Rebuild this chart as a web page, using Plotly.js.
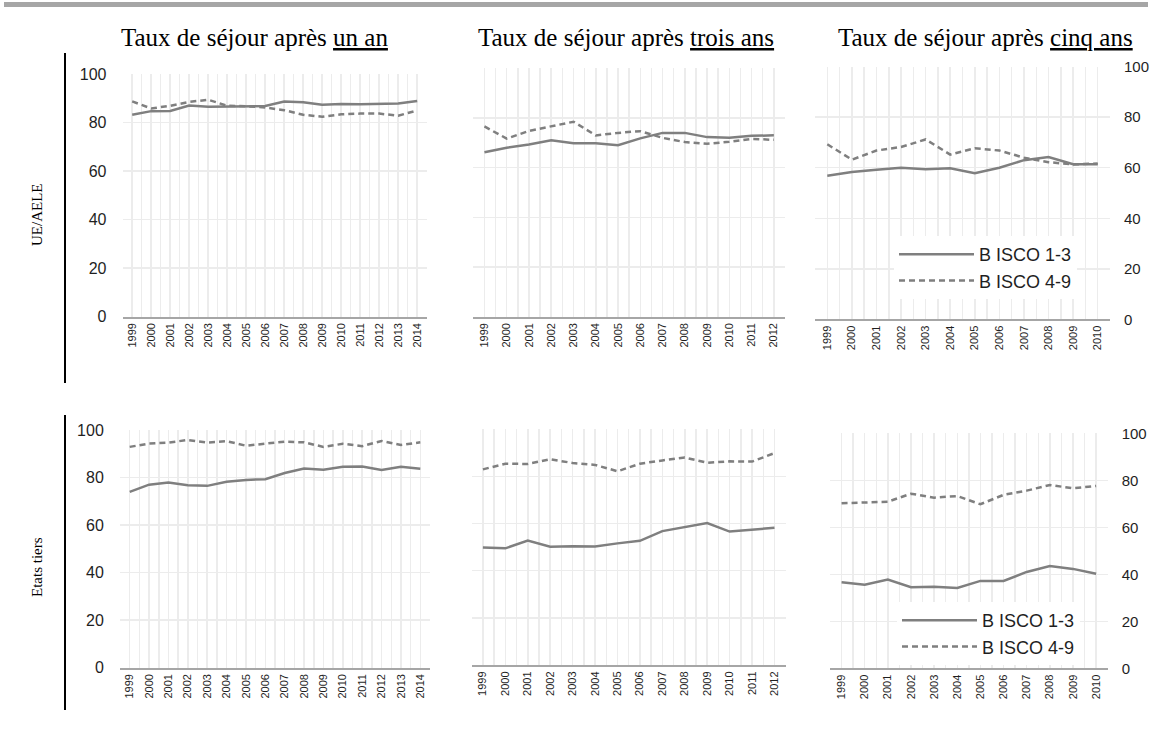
<!DOCTYPE html>
<html>
<head>
<meta charset="utf-8">
<script src="https://cdn.plot.ly/plotly-3.0.1.min.js"></script>
<style>html,body{margin:0;padding:0;background:#fff;}#chart{width:1151px;height:740px;}</style>
</head>
<body>
<div id="chart"></div>
<script>
// ---- Data ----
const years1 = [1999,2000,2001,2002,2003,2004,2005,2006,2007,2008,2009,2010,2011,2012,2013,2014];
const years3 = [1999,2000,2001,2002,2003,2004,2005,2006,2007,2008,2009,2010,2011,2012];
const years5 = [1999,2000,2001,2002,2003,2004,2005,2006,2007,2008,2009,2010];

const seriesNames = ['B ISCO 1-3', 'B ISCO 4-9'];
const rowLabels = ['UE/AELE', 'Etats tiers'];
const panelTitles = ['Taux de séjour après <u>un an</u>', 'Taux de séjour après <u>trois ans</u>', 'Taux de séjour après <u>cinq ans</u>'];
const yTicks = [0, 20, 40, 60, 80, 100];

// UE/AELE
const ue1_isco13 = [83.2, 84.7, 84.8, 87.0, 86.5, 86.7, 86.7, 86.8, 88.7, 88.4, 87.3, 87.6, 87.5, 87.7, 87.8, 88.9];
const ue1_isco49 = [88.7, 85.8, 86.9, 88.5, 89.4, 86.9, 86.7, 86.2, 85.1, 83.2, 82.4, 83.4, 83.7, 83.7, 82.8, 85.0];
const ue3_isco13 = [66.2, 68.0, 69.3, 71.0, 69.8, 69.8, 69.0, 71.8, 74.0, 74.0, 72.3, 72.0, 72.8, 73.0];
const ue3_isco49 = [76.6, 71.7, 74.8, 76.6, 78.5, 73.0, 74.0, 74.7, 72.0, 70.3, 69.6, 70.4, 71.6, 71.2];
const ue5_isco13 = [56.8, 58.3, 59.2, 60.0, 59.4, 59.8, 57.8, 60.0, 63.0, 64.2, 61.4, 61.4];
const ue5_isco49 = [69.3, 63.2, 66.8, 68.2, 71.2, 65.2, 67.7, 66.8, 64.0, 62.2, 61.3, 61.7];
// Etats tiers
const et1_isco13 = [74.0, 77.0, 77.9, 76.8, 76.5, 78.2, 79.0, 79.3, 81.9, 83.8, 83.3, 84.5, 84.6, 83.2, 84.5, 83.7];
const et1_isco49 = [92.9, 94.3, 94.7, 95.8, 94.7, 95.3, 93.4, 94.3, 95.1, 94.8, 92.9, 94.2, 93.2, 95.4, 93.7, 94.8];
const et3_isco13 = [49.8, 49.5, 52.8, 50.2, 50.4, 50.3, 51.6, 52.7, 56.8, 58.5, 60.2, 56.6, 57.4, 58.2];
const et3_isco49 = [83.0, 85.4, 85.3, 87.3, 85.7, 84.9, 82.2, 85.4, 86.8, 88.0, 85.8, 86.4, 86.3, 89.9];
const et5_isco13 = [36.6, 35.6, 37.8, 34.5, 34.7, 34.2, 37.2, 37.2, 41.0, 43.5, 42.3, 40.2];
const et5_isco49 = [70.2, 70.5, 70.9, 74.3, 72.6, 73.3, 69.8, 73.8, 75.6, 78.0, 76.6, 77.6];

// ---- Layout helpers ----
const W = 1151, H = 740;
const fx = p => p / W;
const fy = p => 1 - p / H;
const LINE = '#7f7f7f';
const GRID = '#ececec';
const TXT = '#1f1f1f';

const panels = [
  {years: years1, s1: ue1_isco13, s2: ue1_isco49, x: [122.7, 426.7], y: [74, 316.7], yside: 'left', ylabels: true, legend: null},
  {years: years3, s1: ue3_isco13, s2: ue3_isco49, x: [473.3, 785], y: [68.3, 316.7], yside: 'left', ylabels: false, legend: null},
  {years: years5, s1: ue5_isco13, s2: ue5_isco49, x: [815, 1110], y: [66.7, 319.3], yside: 'right', ylabels: true, legend: 'legend'},
  {years: years1, s1: et1_isco13, s2: et1_isco49, x: [120, 430], y: [430, 667.7], yside: 'left', ylabels: true, legend: null},
  {years: years3, s1: et3_isco13, s2: et3_isco49, x: [471.7, 785.7], y: [429.3, 665], yside: 'left', ylabels: false, legend: null},
  {years: years5, s1: et5_isco13, s2: et5_isco49, x: [830, 1107.7], y: [433.3, 668.3], yside: 'right', ylabels: true, legend: 'legend2'}
];

const traces = [];
const layout = {
  width: W, height: H,
  margin: {l: 0, r: 0, t: 0, b: 0},
  paper_bgcolor: '#ffffff',
  plot_bgcolor: '#ffffff',
  font: {family: 'Liberation Sans, Arial, sans-serif', color: TXT},
  showlegend: true,
  shapes: [],
  annotations: []
};

panels.forEach((p, i) => {
  const k = i + 1;
  const xa = k === 1 ? 'xaxis' : 'xaxis' + k;
  const ya = k === 1 ? 'yaxis' : 'yaxis' + k;
  const xr = k === 1 ? 'x' : 'x' + k;
  const yr = k === 1 ? 'y' : 'y' + k;
  const first = p.years[0], last = p.years[p.years.length - 1];
  const tv = [], tt = [];
  p.years.forEach(yr0 => { tv.push(yr0 - 0.5); tt.push(''); tv.push(yr0); tt.push(String(yr0)); });
  tv.push(last + 0.5); tt.push('');
  layout[xa] = {
    domain: [fx(p.x[0]), fx(p.x[1])], anchor: yr,
    range: [first - 0.5, last + 0.5],
    tickmode: 'array', tickvals: tv, ticktext: tt, tickangle: -90,
    tickfont: {size: 11, color: TXT},
    showgrid: true, gridcolor: GRID, gridwidth: 1.5,
    showline: true, linecolor: '#a6a6a6', linewidth: 2,
    zeroline: false, ticks: '', fixedrange: true
  };
  const right = p.yside === 'right';
  layout[ya] = {
    domain: [fy(p.y[1]), fy(p.y[0])], anchor: xr,
    range: [0, 100], tickmode: 'array', tickvals: yTicks,
    showticklabels: p.ylabels, side: p.yside,
    tickfont: {size: right ? 15 : 16, color: TXT},
    ticks: 'outside', ticklen: right ? 10 : 12, tickcolor: 'rgba(0,0,0,0)',
    showgrid: true, gridcolor: GRID, gridwidth: 1.5,
    showline: false, zeroline: false, fixedrange: true
  };
  const t1 = {x: p.years, y: p.s1, type: 'scatter', mode: 'lines', name: seriesNames[0],
    xaxis: xr, yaxis: yr, line: {color: LINE, width: 2.5}, showlegend: !!p.legend, hoverinfo: 'skip'};
  const t2 = {x: p.years, y: p.s2, type: 'scatter', mode: 'lines', name: seriesNames[1],
    xaxis: xr, yaxis: yr, line: {color: LINE, width: 2.5, dash: '6px,4px'}, showlegend: !!p.legend, hoverinfo: 'skip'};
  if (p.legend) { t1.legend = p.legend; t2.legend = p.legend; }
  traces.push(t1, t2);
});

layout.legend = {
  x: fx(894), y: fy(236), xanchor: 'left', yanchor: 'top',
  bgcolor: '#ffffff', borderwidth: 0, font: {size: 18, color: TXT},
  itemwidth: 75, tracegroupgap: 0, traceorder: 'normal'
};
layout.legend2 = {
  x: fx(897), y: fy(602), xanchor: 'left', yanchor: 'top',
  bgcolor: '#ffffff', borderwidth: 0, font: {size: 18, color: TXT},
  itemwidth: 75, tracegroupgap: 0, traceorder: 'normal'
};

// Top grey rule
layout.shapes.push({type: 'rect', xref: 'paper', yref: 'paper', x0: fx(4), x1: fx(1148), y0: fy(7), y1: fy(2),
  fillcolor: '#a6a6a6', line: {width: 0}});
// Row separators (black vertical lines)
layout.shapes.push({type: 'line', xref: 'paper', yref: 'paper', x0: fx(65), x1: fx(65), y0: fy(53), y1: fy(383),
  line: {color: '#000000', width: 2}});
layout.shapes.push({type: 'line', xref: 'paper', yref: 'paper', x0: fx(65), x1: fx(65), y0: fy(415), y1: fy(710),
  line: {color: '#000000', width: 2}});

// Column titles
const titleX = [254.5, 625.5, 985.5];
panelTitles.forEach((t, i) => {
  layout.annotations.push({text: t, xref: 'paper', yref: 'paper', x: fx(titleX[i]), y: fy(37),
    xanchor: 'center', yanchor: 'middle', showarrow: false,
    font: {family: 'Liberation Serif, Times New Roman, serif', size: 25, color: '#000000'}});
});
// Row labels
const rowY = [215, 567];
rowLabels.forEach((t, i) => {
  layout.annotations.push({text: t, xref: 'paper', yref: 'paper', x: fx(37), y: fy(rowY[i]),
    xanchor: 'center', yanchor: 'middle', showarrow: false, textangle: -90,
    font: {family: 'Liberation Serif, Times New Roman, serif', size: 15, color: '#000000'}});
});

Plotly.newPlot('chart', traces, layout, {displayModeBar: false, staticPlot: true});
</script>
</body>
</html>
